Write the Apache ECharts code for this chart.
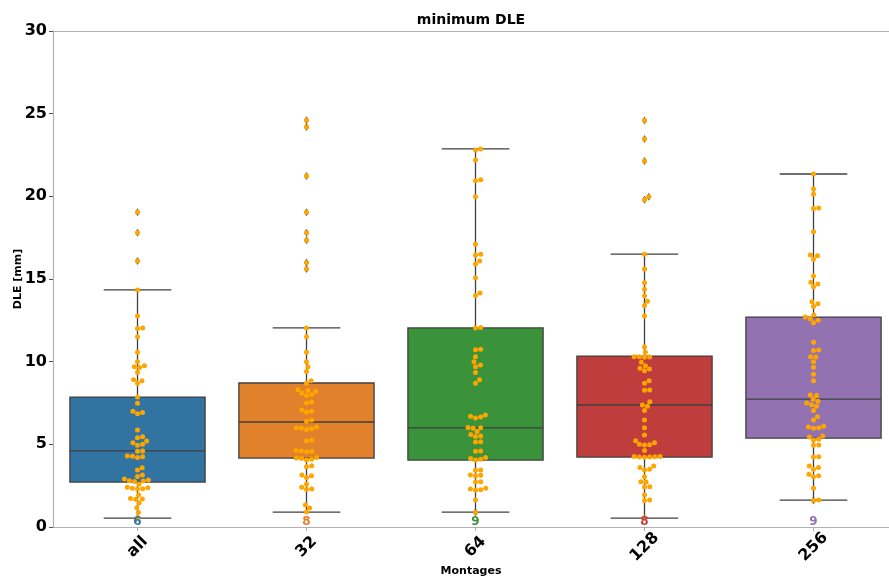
<!DOCTYPE html>
<html><head><meta charset="utf-8">
<script src="https://cdn.jsdelivr.net/npm/echarts@6/dist/echarts.min.js"></script>
<style>html,body{margin:0;padding:0;background:#fff}#c{width:889px;height:579px}</style>
</head><body><div id="c"></div>
<script>
const categories = ['all', '32', '64', '128', '256'];
const counts = [6, 8, 9, 8, 9];
const boxColors = ['#3274a1', '#e1812c', '#3a923a', '#c03d3e', '#9372b2'];
const whiskerLow = [0.54, 0.9, 0.9, 0.54, 1.63];
const q1 = [2.72, 4.17, 4.05, 4.23, 5.38];
const median = [4.6, 6.35, 6.0, 7.38, 7.74];
const q3 = [7.86, 8.71, 12.04, 10.34, 12.7];
const whiskerHigh = [14.34, 12.04, 22.87, 16.5, 21.35];

const valsAll = [19.04, 17.8, 16.09, 14.34, 12.76, 12.04, 12.0, 11.51, 10.57, 10.0, 9.75, 9.7, 9.65, 9.36, 8.9, 8.85, 8.69, 7.86, 7.48, 7.0, 6.93, 6.85, 5.87, 5.46, 5.4, 5.2, 5.1, 5.0, 4.95, 4.6, 4.58, 4.3, 4.28, 4.25, 4.2, 3.59, 3.45, 3.15, 3.05, 2.9, 2.84, 2.8, 2.78, 2.75, 2.6, 2.4, 2.37, 2.35, 2.32, 2.3, 1.94, 1.72, 1.7, 1.68, 1.45, 1.17, 0.87, 0.56];
const vals32 = [24.6, 24.2, 21.23, 19.04, 17.8, 17.35, 16.0, 15.6, 12.04, 11.51, 10.57, 10.0, 9.7, 9.4, 8.85, 8.7, 8.3, 8.25, 8.2, 8.1, 8.0, 7.95, 7.56, 7.5, 7.08, 7.0, 6.95, 6.47, 6.4, 6.05, 6.0, 5.98, 5.95, 5.9, 5.26, 5.2, 4.62, 4.6, 4.58, 4.55, 4.2, 4.17, 4.15, 4.1, 4.05, 3.7, 3.65, 3.15, 3.1, 3.0, 2.6, 2.4, 2.3, 2.28, 1.33, 1.15, 0.9];
const vals64 = [22.87, 22.8, 22.2, 21.0, 20.95, 19.98, 17.1, 16.5, 16.45, 16.09, 15.9, 15.08, 14.15, 14.0, 12.06, 12.04, 10.75, 10.72, 10.3, 10.0, 9.8, 9.7, 9.34, 8.9, 8.7, 6.78, 6.7, 6.65, 6.6, 6.02, 6.0, 5.98, 5.77, 5.6, 5.5, 5.47, 5.16, 5.14, 4.6, 4.58, 4.2, 4.15, 4.1, 4.05, 3.45, 3.43, 3.15, 3.13, 3.1, 2.74, 2.72, 2.34, 2.3, 2.26, 2.24, 1.63, 0.89];
const vals128 = [24.58, 23.47, 22.14, 19.98, 19.8, 16.5, 15.6, 14.78, 14.38, 13.99, 13.65, 13.39, 12.76, 10.89, 10.57, 10.3, 10.3, 10.28, 10.26, 9.96, 9.76, 9.6, 9.55, 9.45, 8.85, 8.7, 8.29, 8.27, 7.58, 7.38, 7.3, 7.04, 6.47, 6.01, 5.57, 5.22, 5.1, 5.0, 4.98, 4.96, 4.62, 4.27, 4.26, 4.25, 4.24, 4.23, 4.22, 3.69, 3.6, 3.5, 3.45, 3.04, 2.74, 2.72, 2.44, 2.42, 1.94, 1.63, 1.61, 0.56];
const vals256 = [21.35, 20.45, 20.13, 19.3, 19.26, 17.86, 16.45, 16.4, 16.2, 15.18, 14.8, 14.7, 14.53, 13.63, 13.5, 13.33, 12.82, 12.7, 12.6, 12.5, 12.36, 11.17, 10.7, 10.68, 10.3, 10.28, 10.0, 9.66, 9.24, 8.85, 7.98, 7.96, 7.72, 7.6, 7.5, 7.4, 7.3, 7.04, 6.67, 6.47, 6.1, 6.05, 6.0, 5.98, 5.5, 5.45, 5.3, 5.26, 4.96, 4.94, 4.25, 4.23, 3.69, 3.6, 3.5, 3.19, 3.1, 3.04, 2.34, 1.63, 1.61];
const groups = [valsAll, vals32, vals64, vals128, vals256];

const W = 889, H = 579;
const gridL = 53, gridR = -9, gridT = 31, gridB = 52;
const plotW = W - gridL - gridR, plotH = H - gridT - gridB;
const band = plotW / categories.length;
const yMax = 30;
const pxPerUnit = plotH / yMax;
const dotD = 5.2;

function swarm(vals) {
  const placed = [];
  const sorted = vals.slice().sort((a, b) => a - b);
  const res = [];
  for (const v of sorted) {
    const y = v * pxPerUnit;
    const near = placed.filter(p => Math.abs(p.y - y) < dotD);
    const cands = [0];
    for (const p of near) {
      const dx = Math.sqrt(dotD * dotD - (p.y - y) * (p.y - y));
      cands.push(p.x + dx, p.x - dx);
    }
    cands.sort((a, b) => Math.abs(a) - Math.abs(b));
    let chosen = 0;
    for (const c of cands) {
      let ok = true;
      for (const p of near) {
        const dx = p.x - c, dy = p.y - y;
        if (dx * dx + dy * dy < dotD * dotD - 0.01) { ok = false; break; }
      }
      if (ok) { chosen = c; break; }
    }
    placed.push({ x: chosen, y });
    res.push([chosen, v]);
  }
  return res;
}

const swarmData = [], flierData = [];
groups.forEach((g, i) => {
  swarm(g).forEach(([dx, v]) => {
    swarmData.push([i + dx / band, v]);
    if (v > whiskerHigh[i] + 1e-6 || v < whiskerLow[i] - 1e-6) flierData.push([i + dx / band, v]);
  });
});

const boxData = categories.map((c, i) => [i, whiskerLow[i], q1[i], median[i], q3[i], whiskerHigh[i]]);
const countData = categories.map((c, i) => [i, 0.3, counts[i]]);
const edge = '#3f3f3f';
const font = 'DejaVu Sans';

const chart = echarts.init(document.getElementById('c'), null, { renderer: 'canvas' });
chart.setOption({
  animation: false,
  backgroundColor: '#fff',
  graphic: [
    { type: 'text', x: gridL + (W - gridL) / 2, y: 13, style: { text: 'minimum DLE', font: 'bold 14px "DejaVu Sans"', fill: '#000', textAlign: 'center' } },
    { type: 'text', x: gridL + (W - gridL) / 2, y: 566, style: { text: 'Montages', font: 'bold 11px "DejaVu Sans"', fill: '#000', textAlign: 'center' } },
    { type: 'text', x: 18, y: gridT + plotH / 2, rotation: Math.PI / 2, style: { text: 'DLE [mm]', font: 'bold 11px "DejaVu Sans"', fill: '#000', textAlign: 'center', textVerticalAlign: 'middle' } }
  ],
  grid: { left: gridL, right: gridR, top: gridT, bottom: gridB, containLabel: false, outerBoundsMode: 'none' },
  xAxis: [{
    type: 'category', data: categories, boundaryGap: true,
    axisLine: { onZero: false, lineStyle: { color: '#b0b0b0', width: 1.2 } },
    axisTick: { show: true, alignWithLabel: true, length: 4, lineStyle: { color: '#b0b0b0' } },
    axisLabel: { rotate: 45, align: 'center', verticalAlign: 'middle', margin: 20, fontFamily: font, fontWeight: 'bold', fontSize: 16, color: '#000' },
    splitLine: { show: false }
  }, {
    type: 'value', min: -0.5, max: 4.5, position: 'top',
    axisLine: { show: true, onZero: false, lineStyle: { color: '#b0b0b0', width: 1.2 } },
    axisTick: { show: false }, axisLabel: { show: false }, splitLine: { show: false }
  }],
  yAxis: {
    type: 'value', min: 0, max: yMax, interval: 5, position: 'left',
    axisLine: { show: true, onZero: false, lineStyle: { color: '#b0b0b0', width: 1.2 } },
    axisTick: { show: true, length: 4, lineStyle: { color: '#555' } },
    axisLabel: { fontFamily: font, fontWeight: 'bold', fontSize: 16, color: '#000', margin: 6 },
    splitLine: { show: false }
  },
  series: [{
    type: 'custom', xAxisIndex: 0, yAxisIndex: 0, z: 2,
    data: boxData,
    renderItem: function (params, api) {
      const i = api.value(0);
      const bw = api.size([1, 0])[0];
      const c = api.coord([i, 0])[0];
      const yLo = api.coord([i, api.value(1)])[1];
      const yQ1 = api.coord([i, api.value(2)])[1];
      const yMed = api.coord([i, api.value(3)])[1];
      const yQ3 = api.coord([i, api.value(4)])[1];
      const yHi = api.coord([i, api.value(5)])[1];
      const half = bw * 0.8 / 2;
      const cap = half / 2;
      const ls = { stroke: edge, lineWidth: 1.3 };
      return {
        type: 'group', children: [
          { type: 'line', shape: { x1: c, y1: yQ3, x2: c, y2: yHi }, style: ls },
          { type: 'line', shape: { x1: c, y1: yQ1, x2: c, y2: yLo }, style: ls },
          { type: 'line', shape: { x1: c - cap, y1: yHi, x2: c + cap, y2: yHi }, style: ls },
          { type: 'line', shape: { x1: c - cap, y1: yLo, x2: c + cap, y2: yLo }, style: ls },
          { type: 'rect', shape: { x: c - half, y: yQ3, width: half * 2, height: yQ1 - yQ3 }, style: { fill: boxColors[i], stroke: edge, lineWidth: 1.3 } },
          { type: 'line', shape: { x1: c - half, y1: yMed, x2: c + half, y2: yMed }, style: ls }
        ]
      };
    }
  }, {
    type: 'scatter', xAxisIndex: 1, yAxisIndex: 0, z: 3,
    symbol: 'diamond', symbolSize: [5, 8],
    itemStyle: { color: '#333' },
    data: flierData
  }, {
    type: 'scatter', xAxisIndex: 1, yAxisIndex: 0, z: 4,
    symbol: 'circle', symbolSize: 5,
    itemStyle: { color: '#ffa500', opacity: 1 },
    data: swarmData
  }, {
    type: 'custom', xAxisIndex: 0, yAxisIndex: 0, z: 6,
    data: countData,
    renderItem: function (params, api) {
      const i = api.value(0);
      const p = api.coord([i, api.value(1)]);
      return {
        type: 'text', x: p[0], y: p[1],
        style: { text: String(api.value(2)), fill: boxColors[i], font: 'bold 12px "DejaVu Sans"', textAlign: 'center', textVerticalAlign: 'middle' }
      };
    }
  }]
});
</script></body></html>
